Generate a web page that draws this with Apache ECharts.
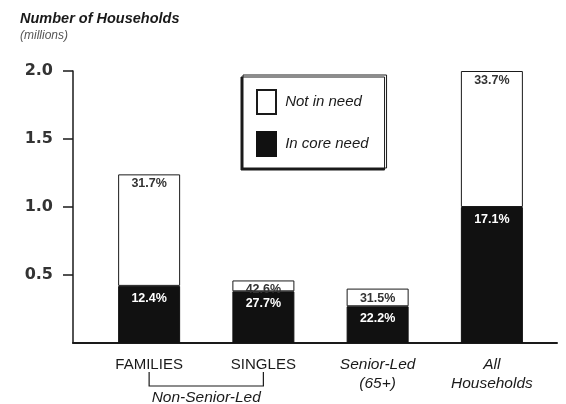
<!DOCTYPE html>
<html>
<head>
<meta charset="utf-8">
<script src="https://cdn.jsdelivr.net/npm/echarts@6/dist/echarts.min.js"></script>
<style>
  html, body { margin: 0; padding: 0; background: #fff; }
  #chart { width: 566px; height: 404px; }
</style>
</head>
<body>
<div id="chart"></div>
<script>
// households, millions
var categories = ['FAMILIES', 'SINGLES', 'Senior-Led\n(65+)', 'All\nHouseholds'];
var coreNeed = [0.42, 0.38, 0.27, 1.0];
var notInNeed = [0.82, 0.08, 0.13, 1.0];
var coreLabels = ['12.4%', '27.7%', '22.2%', '17.1%'];
var notLabels = ['31.7%', '42.6%', '31.5%', '33.7%'];
var yTicks = [0.5, 1.0, 1.5, 2.0];
var groupName = 'Non-Senior-Led';

var ink = '#1a1a1a';
var font = 'Liberation Sans';

var chart = echarts.init(document.getElementById('chart'));

var option = {
  animation: false,
  title: {
    text: 'Number of Households',
    subtext: '(millions)',
    left: 15,
    top: 6,
    itemGap: 4,
    textStyle: { fontFamily: font, fontSize: 14.5, fontWeight: 'bold', fontStyle: 'italic', color: ink },
    subtextStyle: { fontFamily: font, fontSize: 12, fontStyle: 'italic', color: '#555' }
  },
  legend: {
    data: ['Not in need', 'In core need'],
    orient: 'vertical',
    left: 243,
    top: 75,
    icon: 'rect',
    itemWidth: 19,
    itemHeight: 24,
    itemGap: 16,
    padding: [14, 18, 11, 13],
    formatter: ' {name}',
    backgroundColor: '#fff',
    borderColor: ink,
    borderWidth: 1,
    shadowColor: ink,
    shadowBlur: 0,
    shadowOffsetX: -2,
    shadowOffsetY: 2,
    textStyle: { fontFamily: font, fontSize: 15, fontStyle: 'italic', color: ink }
  },
  grid: [
    // axis frame
    { left: 73, right: 9, top: 71, bottom: 61 },
    // bars
    { left: 92, right: 17, top: 71, bottom: 61 }
  ],
  xAxis: [
    {
      type: 'value', gridIndex: 0, min: 0, max: 1,
      axisLine: { show: true, lineStyle: { color: ink, width: 2 } },
      axisTick: { show: false }, axisLabel: { show: false }, splitLine: { show: false }
    },
    {
      type: 'category', gridIndex: 1, data: categories,
      axisLine: { show: false }, axisTick: { show: false },
      axisLabel: {
        interval: 0,
        margin: 12,
        formatter: function (v, i) {
          if (i < 2) return '{caps|' + v + '}';
          return v.split('\n').map(function (s) { return '{it|' + s + '}'; }).join('\n');
        },
        rich: {
          caps: { fontFamily: font, fontSize: 15, color: ink, lineHeight: 19 },
          it: { fontFamily: font, fontSize: 15.5, fontStyle: 'italic', color: ink, lineHeight: 19 }
        }
      }
    }
  ],
  yAxis: [
    {
      type: 'value', gridIndex: 0, min: 0, max: 2, interval: 0.5,
      axisLine: { show: true, lineStyle: { color: ink, width: 1.5 } },
      axisTick: { show: true, length: 10, customValues: yTicks, lineStyle: { color: ink, width: 1.5 } },
      axisLabel: {
        margin: 20,
        customValues: yTicks,
        formatter: function (v) { return v.toFixed(1); },
        fontFamily: 'DejaVu Sans', fontSize: 16, fontWeight: 'bold', color: '#333'
      },
      splitLine: { show: false }
    },
    {
      type: 'value', gridIndex: 1, min: 0, max: 2, show: false
    }
  ],
  series: [
    {
      name: 'In core need',
      type: 'bar',
      stack: 'hh',
      xAxisIndex: 1, yAxisIndex: 1,
      barWidth: 62,
      data: coreNeed,
      itemStyle: { color: '#111', borderColor: '#111', borderWidth: 1 },
      label: {
        show: true, position: 'insideTop', distance: 6,
        formatter: function (p) { return coreLabels[p.dataIndex]; },
        fontFamily: font, fontSize: 12.5, fontWeight: 'bold', color: '#fff'
      }
    },
    {
      name: 'Not in need',
      type: 'bar',
      stack: 'hh',
      xAxisIndex: 1, yAxisIndex: 1,
      barWidth: 62,
      data: notInNeed,
      itemStyle: { color: '#fff', borderColor: ink, borderWidth: 1 },
      label: {
        show: true, position: 'insideTop', distance: 3,
        formatter: function (p) { return notLabels[p.dataIndex]; },
        fontFamily: font, fontSize: 12.5, fontWeight: 'bold', color: '#333'
      }
    }
  ]
};

chart.setOption(option);

// bracket under the first two categories
var xa = chart.convertToPixel({ xAxisIndex: 1 }, categories[0]);
var xb = chart.convertToPixel({ xAxisIndex: 1 }, categories[1]);
chart.setOption({
  graphic: [
    {
      type: 'polyline',
      shape: { points: [[xa, 372], [xa, 386], [xb, 386], [xb, 372]] },
      style: { stroke: ink, lineWidth: 1.2, fill: null }
    },
    {
      type: 'text',
      x: (xa + xb) / 2, y: 398,
      style: {
        text: groupName, fill: ink, align: 'center', verticalAlign: 'middle',
        font: 'italic 15.5px "Liberation Sans"'
      }
    }
  ]
});
</script>
</body>
</html>
